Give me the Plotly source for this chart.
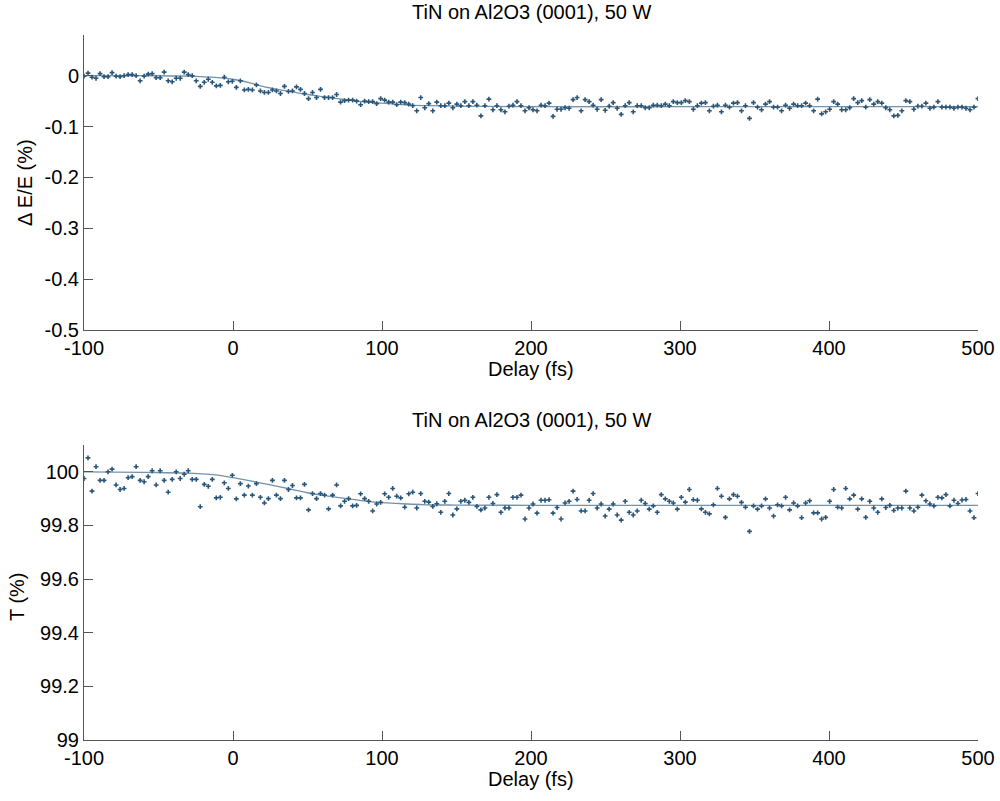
import numpy as np
import plotly.graph_objects as go

# ---------------- data ----------------
title_text = "TiN on Al2O3 (0001), 50 W"
x_label = "Delay (fs)"
y1_label = "Δ E/E (%)"
y2_label = "T (%)"

delay_start = -100
delay_end = 500

# dE/E (%) in units of 0.001 %
dEE_milli = [
    -1, 5, -3, -5, 4, -2, -2, 6, -1, -2, 0, 2, 2, 0, -10, -1, 3, 4, -4, -4,
    7, -10, -12, -5, -5, 7, 2, 0, -10, -21, -13, -7, -13, -20, -19, -3, -12, -11, -23, -10,
    -28, -27, -28, -18, -30, -33, -33, -28, -30, -35, -21, -31, -30, -22, -27, -35, -45, -33, -43, -27,
    -43, -43, -43, -37, -52, -49, -48, -48, -50, -57, -50, -51, -51, -55, -45, -48, -52, -52, -57, -52,
    -53, -56, -59, -69, -43, -63, -55, -69, -52,
    -59, -59, -54, -63, -56, -59, -51, -59, -51, -58,
    -79, -59, -46, -67, -59, -67, -71, -60, -58, -51,
    -59, -69, -63, -67, -69, -58, -59, -54, -80, -66,
    -66, -63, -64, -47, -43, -69, -47, -51, -58, -66,
    -47, -68, -60, -53, -64, -76, -59, -53, -71, -59,
    -59, -63, -63, -58, -58, -59, -56, -59, -51, -53,
    -53, -49, -51, -66, -59, -54, -53, -69, -60, -58,
    -71, -58, -62, -54, -53, -69, -59, -84, -53, -62,
    -67, -56, -51, -62, -62, -69, -58, -64, -56, -59,
    -59, -54, -59, -69, -46, -75, -71, -66, -51, -56,
    -67, -67, -63, -45, -53, -49, -62, -47, -56, -51,
    -54, -63, -67, -79, -78, -69, -49, -51, -66, -60,
    -60, -54, -64, -62, -51, -62, -62, -62, -64, -62,
    -62, -64, -67, -62, -45,
]

T_values = [
    99.975, 100.052, 99.928, 100.019, 99.968, 99.968, 100.000, 100.010, 99.951, 99.934,
    99.938, 99.978, 99.982, 100.019, 99.968, 99.963, 99.982, 100.004, 99.951, 100.004,
    99.968, 99.924, 99.972, 100.000, 99.975, 99.991, 100.004, 99.972, 99.972, 99.870,
    99.953, 99.946, 99.972, 99.903, 99.905, 99.959, 99.938, 99.987, 99.899, 99.956,
    99.913, 99.947, 99.913, 99.956, 99.905, 99.884, 99.900, 99.968, 99.913, 99.900,
    99.968, 99.934, 99.949, 99.903, 99.903, 99.953, 99.858, 99.919, 99.900, 99.919,
    99.913, 99.862, 99.913, 99.951, 99.873, 99.890, 99.900, 99.873, 99.875, 99.918,
    99.900, 99.890, 99.854, 99.880, 99.886, 99.918, 99.905, 99.938, 99.909, 99.903,
    99.868, 99.918, 99.924, 99.865, 99.919, 99.890, 99.887, 99.871, 99.881,
    99.849, 99.890, 99.919, 99.839, 99.862, 99.890, 99.894, 99.886, 99.905, 99.871,
    99.858, 99.865, 99.905, 99.882, 99.915, 99.849, 99.865, 99.865, 99.905, 99.905,
    99.913, 99.824, 99.865, 99.880, 99.846, 99.894, 99.894, 99.896, 99.846, 99.867,
    99.824, 99.884, 99.890, 99.928, 99.897, 99.854, 99.854, 99.894, 99.919, 99.865,
    99.880, 99.835, 99.861, 99.880, 99.839, 99.820, 99.890, 99.849, 99.839, 99.854,
    99.894, 99.882, 99.861, 99.873, 99.849, 99.915, 99.899, 99.890, 99.884, 99.861,
    99.905, 99.887, 99.934, 99.896, 99.894, 99.862, 99.849, 99.843, 99.877, 99.938,
    99.909, 99.830, 99.899, 99.915, 99.909, 99.886, 99.868, 99.778, 99.873, 99.861,
    99.873, 99.899, 99.865, 99.835, 99.877, 99.873, 99.905, 99.858, 99.884, 99.873,
    99.829, 99.884, 99.892, 99.847, 99.847, 99.824, 99.830, 99.890, 99.934, 99.868,
    99.865, 99.938, 99.899, 99.913, 99.861, 99.899, 99.830, 99.890, 99.865, 99.849,
    99.899, 99.867, 99.875, 99.856, 99.865, 99.865, 99.928, 99.865, 99.854, 99.868,
    99.913, 99.892, 99.880, 99.873, 99.905, 99.903, 99.915, 99.873, 99.894, 99.882,
    99.895, 99.897, 99.854, 99.829, 99.919,
]

# fitted curves
fit_delay = [-100, -60, -30, -10, 0, 10, 20, 30, 40, 50, 60, 70, 80, 90, 100,
             110, 120, 130, 150, 200, 300, 400, 500]
fit_dEE_milli = [0, 0, -1, -4, -7, -13, -21, -27, -32, -37, -41, -45, -49, -52, -54,
                 -56, -58, -59, -60, -61, -61, -61, -61]
fit_T = [100.0, 99.998, 99.995, 99.988, 99.978, 99.968, 99.957, 99.946, 99.934, 99.922,
         99.913, 99.905, 99.897, 99.890, 99.885, 99.882, 99.879, 99.877, 99.876, 99.875,
         99.875, 99.875, 99.875]

x_ticks = [-100, 0, 100, 200, 300, 400, 500]
x_ticktext = ["-100", "0", "100", "200", "300", "400", "500"]
y1_ticks = [-0.5, -0.4, -0.3, -0.2, -0.1, 0]
y1_ticktext = ["-0.5", "-0.4", "-0.3", "-0.2", "-0.1", "0"]
y2_ticks = [99, 99.2, 99.4, 99.6, 99.8, 100]
y2_ticktext = ["99", "99.2", "99.4", "99.6", "99.8", "100"]

# ---------------- figure ----------------
dEE = np.array(dEE_milli) / 1000.0
fit_dEE = np.array(fit_dEE_milli) / 1000.0
delay1 = np.linspace(delay_start, delay_end, len(dEE))
delay2 = np.linspace(delay_start, delay_end, len(T_values))

marker_color = "#2c5677"
line_color = "#7392ab"
axis_color = "#555555"
FONT = "Liberation Sans, Arial, sans-serif"
FS = 20

fig = go.Figure()
fig.add_trace(go.Scatter(x=fit_delay, y=fit_dEE, mode="lines", line=dict(color=line_color, width=1.3, shape="spline"),
                         xaxis="x", yaxis="y", showlegend=False))
fig.add_trace(go.Scatter(x=delay1, y=dEE, mode="markers",
                         marker=dict(symbol="cross", size=4, color=marker_color, line=dict(width=0)),
                         xaxis="x", yaxis="y", showlegend=False))
fig.add_trace(go.Scatter(x=fit_delay, y=fit_T, mode="lines", line=dict(color=line_color, width=1.3, shape="spline"),
                         xaxis="x2", yaxis="y2", showlegend=False))
fig.add_trace(go.Scatter(x=delay2, y=T_values, mode="markers",
                         marker=dict(symbol="cross", size=4, color=marker_color, line=dict(width=0)),
                         xaxis="x2", yaxis="y2", showlegend=False))

axis_common = dict(showline=True, linecolor=axis_color, linewidth=1, ticks="inside", ticklen=9,
                   tickcolor=axis_color, tickwidth=1, showgrid=False, zeroline=False, mirror=False,
                   automargin=False, tickfont=dict(family=FONT, size=FS, color="black"))

W, H = 1000, 801
ML, MT, MB = 84, 35, 61
PW, PH = 894, 705
MR = W - ML - PW

top_dom = [(705 - 295) / 705, 1.0]
bot_dom = [0.0, 295 / 705]

fig.update_layout(
    width=W, height=H,
    margin=dict(l=ML, r=MR, t=MT, b=MB, autoexpand=False),
    paper_bgcolor="white", plot_bgcolor="white",
    xaxis=dict(domain=[0, 1], range=[delay_start, delay_end], tickvals=x_ticks, ticktext=x_ticktext,
               anchor="y", **axis_common),
    yaxis=dict(domain=top_dom, range=[-0.5, 0.08], tickvals=y1_ticks, ticktext=y1_ticktext,
               anchor="x", **axis_common),
    xaxis2=dict(domain=[0, 1], range=[delay_start, delay_end], tickvals=x_ticks, ticktext=x_ticktext,
                anchor="y2", **axis_common),
    yaxis2=dict(domain=bot_dom, range=[99, 100.1], tickvals=y2_ticks, ticktext=y2_ticktext,
                anchor="x2", **axis_common),
    font=dict(family=FONT, size=FS, color="black"),
)

def py(page_y):
    return (740 - page_y) / PH

def px(page_x):
    return (page_x - 84) / PW

ann_font = dict(family=FONT, size=FS, color="black")
annotations = [
    dict(text=title_text, xref="paper", yref="paper", x=0.5, y=py(12), xanchor="center", yanchor="middle",
         showarrow=False, font=ann_font),
    dict(text=title_text, xref="paper", yref="paper", x=0.5, y=py(420), xanchor="center", yanchor="middle",
         showarrow=False, font=ann_font),
    dict(text=x_label, xref="paper", yref="paper", x=0.5, y=py(369), xanchor="center", yanchor="middle",
         showarrow=False, font=ann_font),
    dict(text=x_label, xref="paper", yref="paper", x=0.5, y=py(779), xanchor="center", yanchor="middle",
         showarrow=False, font=ann_font),
    dict(text=y1_label, xref="paper", yref="paper", x=px(25), y=py(183), xanchor="center",
         yanchor="middle", textangle=-90, showarrow=False, font=ann_font),
    dict(text=y2_label, xref="paper", yref="paper", x=px(17), y=py(597), xanchor="center",
         yanchor="middle", textangle=-90, showarrow=False, font=ann_font),
]
fig.update_layout(annotations=annotations)

fig.write_html("out.html", config={"displayModeBar": False},
               post_script="document.body.style.margin='0';document.body.style.padding='0';")
